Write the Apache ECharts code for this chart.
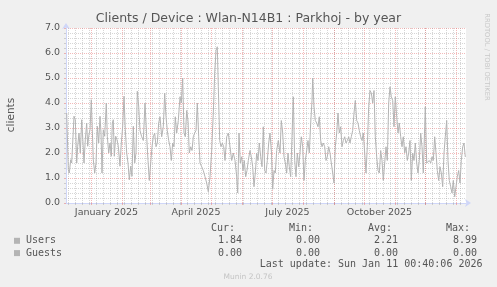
<!DOCTYPE html>
<html><head><meta charset="utf-8">
<script src="https://cdn.jsdelivr.net/npm/echarts@6/dist/echarts.min.js"></script>
<style>html,body{margin:0;padding:0;background:#f0f0f0;overflow:hidden}#c{width:497px;height:287px}</style>
</head><body><div id="c"></div>
<script>
// ---------- data ----------
const chartTitle = 'Clients / Device : Wlan-N14B1 : Parkhoj - by year';
const yAxisName = 'clients';
const yMin = 0, yMax = 7;
const monthLabels = ['January 2025', 'April 2025', 'July 2025', 'October 2025'];
const labelMonths = [[2025, 0], [2025, 3], [2025, 6], [2025, 9]];
const startTime = Date.UTC(2024, 11, 7, 0, 40, 6);
const spanDays = 400;
// [days since start, clients]
const users = [
  [0.7,3.6],[2.3,1.33],[3.3,1.2],[4.7,1.73],[5.7,1.6],[6.7,2.4],[8,3.47],[9.3,3.33],[10.7,1.6],[11.7,2.27],
  [13,2.8],[14.3,2.0],[15.7,3.33],[17,2.4],[18,1.6],[19.3,2.53],[20.7,3.2],[21.7,2.27],[22.7,2.67],[24,2.93],
  [25.3,4.13],[26.3,2.93],[27.3,1.73],[28.7,1.2],[30,1.6],[31.3,3.07],[32.7,2.4],[34,3.47],[35,2.8],[36,1.2],
  [37.3,2.93],[38.7,2.67],[40.3,4.0],[41.3,2.67],[42.7,2.0],[44,2.4],[45.3,1.87],[46.3,3.2],[47.3,3.33],[48.3,1.87],
  [49.7,2.67],[51,2.53],[52.3,2.27],[54,1.47],[55.3,2.4],[56.7,3.07],[58,4.27],[59.3,2.93],[60.7,2.0],[62,1.6],
  [63.3,0.93],[64.7,1.47],[66,1.07],[67.3,3.07],[68.7,1.6],[70,2.0],[71.3,4.47],[72.7,3.87],
  [74,2.9],[75.7,2.65],[77.3,2.5],[79,4.0],[80.7,2.65],[82,1.7],[83.3,0.9],[84.7,0.9],[86,2.25],[87.3,2.65],
  [88.7,2.8],[90,2.25],[91.3,2.4],[92.7,3.2],[94,3.45],[95.7,2.65],[97.3,3.05],[98.7,4.4],[100,3.45],[101.3,2.9],
  [102.7,2.5],[104,2.25],[105.3,1.7],[106.7,2.4],[108,2.25],[109.3,3.45],[110.7,2.8],[112.3,3.3],[114,4.25],[115.3,4.0],
  [116.7,5.0],[118,2.8],[119.3,2.65],[120.7,3.7],[122,3.3],[123.3,2.0],[124.7,2.25],[126,2.1],[127.3,2.65],[128.7,2.8],
  [130,2.9],[131.3,4.0],[132.7,2.65],[134,1.6],[135.7,1.45],[137.3,1.3],[139,1.05],[140.7,0.8],[142.3,0.45],[144,1.05],
  [145.7,2.1],[147.3,3.6],[148.7,5.2],[150,6.1],[151.3,6.25],[152.3,4.65],[153.7,2.5],[155,2.25],[156.3,2.4],[157.7,2.25],
  [159,1.7],[160.7,2.65],[162.3,2.8],[164,2.25],[165.7,1.7],[167.3,2.0],[169,1.7],[170.7,1.05],[171.7,0.4],[173,2.8],
  [174.3,1.6],[175.7,1.85],[177,1.3],[178.3,1.7],[179.7,1.05],[181,1.3],[182.3,1.7],[184,2.1],[185.3,1.85],[186.7,1.45],
  [188,0.65],[189.3,1.2],[190.7,2.0],[192,1.7],[193.3,2.4],[194.7,1.85],[196,1.45],[197.3,3.05],[198.7,1.3],[200,1.2],
  [201.3,1.7],[202.7,2.4],[204,2.8],[205.5,2.0],[206.7,0.55],[208,1.3],[209.3,1.2],[210.7,2.1],[212.3,2.5],
  [214,2.0],[215.3,3.3],[216.7,2.8],[218,1.85],[219.3,1.6],[220.7,1.2],[222,2.0],[223.3,1.45],[224.7,1.05],[226,2.65],
  [227.3,4.25],[228.7,1.7],[230,1.05],[231.3,2.0],[232.7,1.45],[234,2.0],[235.3,2.65],[236.7,2.25],[238,0.9],[239.3,1.7],
  [240.7,2.1],[242,2.5],[243.3,2.0],[244.7,3.2],[246,4.1],[246.7,5.0],[248,3.85],[249.3,3.3],[250.7,3.2],[252,3.05],
  [253.3,3.45],[254.7,2.5],[256,2.25],[257.3,2.4],[258.7,2.25],[260,1.7],[261.3,1.85],[262.7,2.25],[264,2.0],[265.3,1.6],
  [266.7,1.2],[268,0.8],[269.3,2.25],[270.7,2.8],[272,3.6],[273.3,2.8],[274.7,3.05],[276,2.25],[277.3,2.5],[278.7,2.65],
  [280,2.4],[281.3,2.5],[282.7,2.65],[284,2.4],[285.3,2.65],[286.7,2.9],[288,3.6],[289.3,4.1],[290.7,3.3],[292,3.2],
  [293.3,2.9],[294.7,2.65],[296,2.5],[297.3,2.8],[298.7,2.0],[300,1.2],[301.3,2.25],[302.7,3.85],[304,4.5],[305.3,4.4],
  [306.7,4.0],[308,4.5],[309.3,2.65],[310.7,1.85],[312,1.3],[313.3,1.2],[314.7,2.1],[316,1.7],[317.3,0.9],[318.7,1.6],
  [320,2.25],[321.3,1.7],[322.7,4.0],[324,4.65],[325.3,4.25],[326.7,4.1],[328,3.05],[329.3,4.25],[330.7,3.45],[332,2.8],
  [333.3,3.2],[334.7,2.65],[336,2.25],[337.3,2.65],[338.7,2.0],[340,2.25],[341.3,1.7],[342.7,2.0],[344,2.5],[345.3,0.9],
  [346.7,2.0],[348,1.7],[349.3,2.4],[350.7,1.6],[352,1.2],[353.3,1.7],[354.7,2.8],[356,2.25],[357.3,1.2],[358.7,3.05],
  [359.3,3.85],[360.7,1.6],[362,1.6],[363.3,1.7],[364.7,1.6],[366,1.85],[367.3,1.7],[368.7,2.65],[370,2.0],[371.3,1.3],
  [372.7,0.9],[374,1.45],[375.3,1.2],[376.7,0.65],[378,2.0],[379.3,2.65],[380.7,3.3],[382,1.7],[383.3,0.9],[384.7,0.65],
  [386,0.4],[387.3,0.9],[388.7,0.25],[390,0.65],[391.3,1.05],[392.7,1.3],[394,0.8],[395.3,1.7],[396.7,2.25],[398,2.4],
  [399.3,1.84]
];
const legendNames = ['Users', 'Guests'];
const legendHeaders = ['Cur:', 'Min:', 'Avg:', 'Max:'];
const curVals = [1.84, 0.00];
const minVals = [0.00, 0.00];
const avgVals = [2.21, 0.00];
const maxVals = [8.99, 0.00];
const lastUpdate = 'Last update: Sun Jan 11 00:40:06 2026';
const footerText = 'Munin 2.0.76';
const watermark = 'RRDTOOL / TOBI OETIKER';

// ---------- derived ----------
const DAY = 86400000;
const off = t => (t - startTime) / DAY;
const monthStarts = [];
for (let i = 0; i < 14; i++) {
  const d = off(Date.UTC(2024, 11 + i, 1));
  if (d > 0 && d < spanDays) monthStarts.push(d);
}
const weekStarts = [];
for (let t = Date.UTC(2024, 11, 9); off(t) < spanDays; t += 7 * DAY) weekStarts.push(off(t));
const labelPos = labelMonths.map(([y, m]) => (off(Date.UTC(y, m, 1)) + off(Date.UTC(y, m + 1, 1))) / 2);

// ---------- layout ----------
const G = { left: 66, top: 28, width: 400, height: 175 };
const AXIS = '#CFD6F8';
const MGRID = 'rgba(225,90,90,0.42)';
const GRID = 'rgba(140,140,140,0.36)';
const SANS = '"DejaVu Sans", sans-serif';
const MONO = '"DejaVu Sans Mono", monospace';
const TXT = '#555555';

const chart = echarts.init(document.getElementById('c'), null, { renderer: 'canvas' });

function hiddenX(values, color) {
  return {
    type: 'value', min: 0, max: spanDays, gridIndex: 0, position: 'bottom', offset: 0,
    axisLine: { show: false, onZero: false },
    axisLabel: { show: false },
    axisTick: { show: true, customValues: values, length: 2, inside: false, lineStyle: { color: color, width: 1 } },
    splitLine: { show: true, lineStyle: { color: color, type: 'dotted', width: 1 } }
  };
}

const legendGraphics = [];
const colRight = [235, 313, 392, 470];
const valRight = [242, 320, 398, 477];
legendHeaders.forEach((h, i) => legendGraphics.push({
  type: 'text', x: colRight[i], y: 228.5,
  style: { text: h, font: '10px ' + MONO, fill: TXT, align: 'right', verticalAlign: 'middle' }
}));
const cols = [curVals, minVals, avgVals, maxVals];
legendNames.forEach((n, r) => {
  const y = 240.8 + r * 12.3;
  legendGraphics.push({ type: 'rect', shape: { x: 14, y: y - 3, width: 6, height: 6 }, style: { fill: '#b4b4b4' } });
  legendGraphics.push({ type: 'text', x: 26, y: y, style: { text: n, font: '10px ' + MONO, fill: TXT, align: 'left', verticalAlign: 'middle' } });
  cols.forEach((c, i) => legendGraphics.push({
    type: 'text', x: valRight[i], y: y,
    style: { text: c[r].toFixed(2), font: '10px ' + MONO, fill: TXT, align: 'right', verticalAlign: 'middle' }
  }));
});

const option = {
  backgroundColor: '#f0f0f0',
  animation: false,
  grid: { left: G.left, top: G.top, width: G.width, height: G.height, containLabel: false,
          show: true, backgroundColor: '#ffffff', borderWidth: 0 },
  xAxis: [
    hiddenX(weekStarts, GRID),
    hiddenX(monthStarts, MGRID),
    {
      type: 'value', min: 0, max: spanDays, position: 'bottom', offset: 0,
      axisLine: { show: true, onZero: false, lineStyle: { color: AXIS, width: 1 }, symbol: ['none', 'arrow'], symbolSize: [6, 6], symbolOffset: [0, 5] },
      axisTick: { show: false, customValues: labelPos },
      splitLine: { show: false },
      axisLabel: {
        show: true, customValues: labelPos, margin: 5,
        formatter: v => { let k = 0, b = Infinity; labelPos.forEach((p, i) => { if (Math.abs(p - v) < b) { b = Math.abs(p - v); k = i; } }); return monthLabels[k]; },
        color: TXT, fontFamily: 'DejaVu Sans', fontSize: 9.5
      }
    }
  ],
  yAxis: [{
    type: 'value', min: yMin, max: yMax, interval: 1, position: 'left',
    axisLine: { show: true, onZero: false, lineStyle: { color: AXIS, width: 1 }, symbol: ['none', 'arrow'], symbolSize: [6, 6], symbolOffset: [0, 5] },
    axisTick: { show: true, length: 2, lineStyle: { color: MGRID } },
    minorTick: { show: true, splitNumber: 5, length: 2, lineStyle: { color: GRID } },
    splitLine: { show: true, lineStyle: { color: MGRID, type: 'dotted', width: 1 } },
    minorSplitLine: { show: true, lineStyle: { color: GRID, type: 'dotted', width: 1 } },
    axisLabel: { formatter: v => v.toFixed(1), color: TXT, fontFamily: 'DejaVu Sans', fontSize: 9.5, margin: 6 }
  }],
  series: [{
    name: legendNames[0], type: 'line', xAxisIndex: 2, yAxisIndex: 0,
    data: users, showSymbol: false, symbol: 'none', z: 5,
    lineStyle: { color: '#b4b4b4', width: 1 }, silent: true
  }],
  graphic: [
    { type: 'text', x: 248.5, y: 19, style: { text: chartTitle, font: '12.5px ' + SANS, fill: TXT, align: 'center', verticalAlign: 'middle' } },
    { type: 'text', x: 11, y: 115, rotation: Math.PI / 2, style: { text: yAxisName, font: '10.5px ' + SANS, fill: TXT, align: 'center', verticalAlign: 'middle' } },
    { type: 'text', x: 486.5, y: 57, rotation: -Math.PI / 2, style: { text: watermark, font: '6.8px ' + SANS, fill: '#c8c8c8', align: 'center', verticalAlign: 'middle' } },
    { type: 'text', x: 482.5, y: 264.8, style: { text: lastUpdate, font: '10px ' + MONO, fill: TXT, align: 'right', verticalAlign: 'middle' } },
    { type: 'text', x: 248, y: 277, style: { text: footerText, font: '7.5px ' + SANS, fill: '#c4c4c4', align: 'center', verticalAlign: 'middle' } }
  ].concat(legendGraphics)
};
chart.setOption(option);
</script>
</body></html>
